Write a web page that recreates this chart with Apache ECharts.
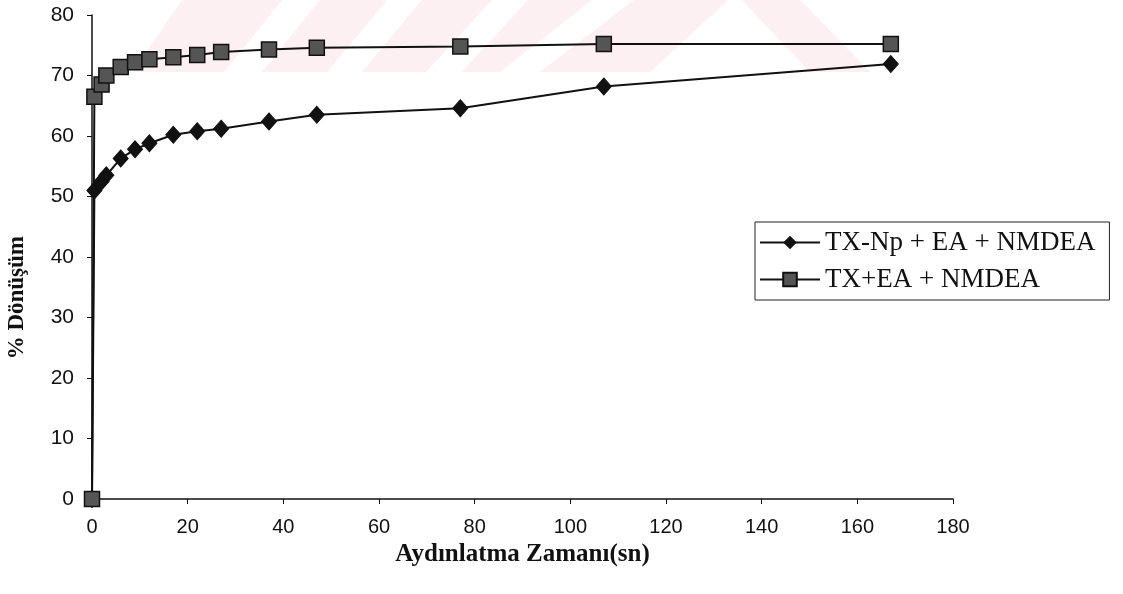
<!DOCTYPE html>
<html>
<head>
<meta charset="utf-8">
<script src="https://cdn.jsdelivr.net/npm/echarts@6/dist/echarts.min.js"></script>
<style>
  html, body { margin: 0; padding: 0; background: #fff; }
  #chart { width: 1123px; height: 594px; }
</style>
</head>
<body>
<div id="chart"></div>
<script>
// Illumination time (s) and % conversion
const TIMES = [0, 0.5, 2, 3, 6, 9, 12, 17, 22, 27, 37, 47, 77, 107, 167]
const TXNP = [0, 51, 52.5, 53.5, 56.3, 57.8, 58.8, 60.2, 60.8, 61.2, 62.4, 63.5, 64.6, 68.2, 71.9]
const TX = [0, 66.5, 68.5, 70, 71.4, 72.2, 72.7, 73.0, 73.4, 73.9, 74.3, 74.6, 74.8, 75.2, 75.2]
const NAMES = ['TX-Np + EA + NMDEA', 'TX+EA + NMDEA']

const pair = (ys) => TIMES.map((t, i) => [t, ys[i]])

/* faint watermark band at the top (scan background) */
const PINK = '#fdf0f2'
const wm = [
  { shape: { points: [[182, 0], [800, 0], [870, 72], [133, 72]] }, style: { fill: PINK } },
  { shape: { points: [[282, 0], [320, 0], [262, 72], [224, 72]] }, style: { fill: '#fff' } },
  { shape: { points: [[387, 0], [422, 0], [362, 72], [327, 72]] }, style: { fill: '#fff' } },
  { shape: { points: [[492, 0], [528, 0], [462, 72], [426, 72]] }, style: { fill: '#fff' } },
  { shape: { points: [[592, 0], [634, 0], [540, 72], [500, 72]] }, style: { fill: '#fff' } },
  { shape: { points: [[728, 0], [742, 0], [810, 72], [650, 72]] }, style: { fill: '#fff' } }
].map(g => Object.assign({ type: 'polygon', z: -10, silent: true }, g))

const chart = echarts.init(document.getElementById('chart'))
chart.setOption({
  animation: false,
  backgroundColor: '#fff',
  grid: { left: 92, right: 170, top: 15, bottom: 95 },
  graphic: wm.concat([{
    type: 'text',
    left: 6, top: 236,
    rotation: Math.PI / 2,
    style: { text: '% Dönüşüm', font: 'bold 23px "Liberation Serif"', fill: '#111' }
  }]),
  legend: {
    orient: 'vertical',
    left: 755, top: 222,
    padding: [7, 14, 7, 4],
    itemGap: 10,
    itemWidth: 60, itemHeight: 17,
    borderColor: '#222', borderWidth: 1, borderRadius: 0,
    textStyle: { fontFamily: 'Liberation Serif', fontSize: 27, color: '#111' },
    data: NAMES
  },
  xAxis: {
    type: 'value',
    min: 0, max: 180, interval: 20,
    name: 'Aydınlatma Zamanı(sn)',
    nameLocation: 'middle', nameGap: 36,
    nameTextStyle: { fontFamily: 'Liberation Serif', fontWeight: 'bold', fontSize: 25, color: '#111' },
    axisLine: { lineStyle: { color: '#111', width: 1.5 } },
    axisTick: { length: 5, lineStyle: { color: '#111' } },
    axisLabel: { margin: 18, fontFamily: 'Liberation Sans', fontSize: 20, color: '#111' },
    splitLine: { show: false }
  },
  yAxis: {
    type: 'value',
    min: 0, max: 80, interval: 10,
    axisLine: { show: true, lineStyle: { color: '#111', width: 1.5 } },
    axisTick: { show: true, length: 5, lineStyle: { color: '#111' } },
    axisLabel: { margin: 18, fontFamily: 'Liberation Sans', fontSize: 21, color: '#111' },
    splitLine: { show: false }
  },
  series: [
    {
      name: NAMES[0],
      type: 'line',
      data: pair(TXNP),
      symbol: 'diamond',
      symbolSize: [15, 17],
      lineStyle: { color: '#111', width: 2 },
      itemStyle: { color: '#111', borderColor: '#111' }
    },
    {
      name: NAMES[1],
      type: 'line',
      data: pair(TX),
      symbol: 'rect',
      symbolSize: 15,
      lineStyle: { color: '#111', width: 2 },
      itemStyle: { color: '#555', borderColor: '#111', borderWidth: 1.5 }
    }
  ]
})
</script>
</body>
</html>
